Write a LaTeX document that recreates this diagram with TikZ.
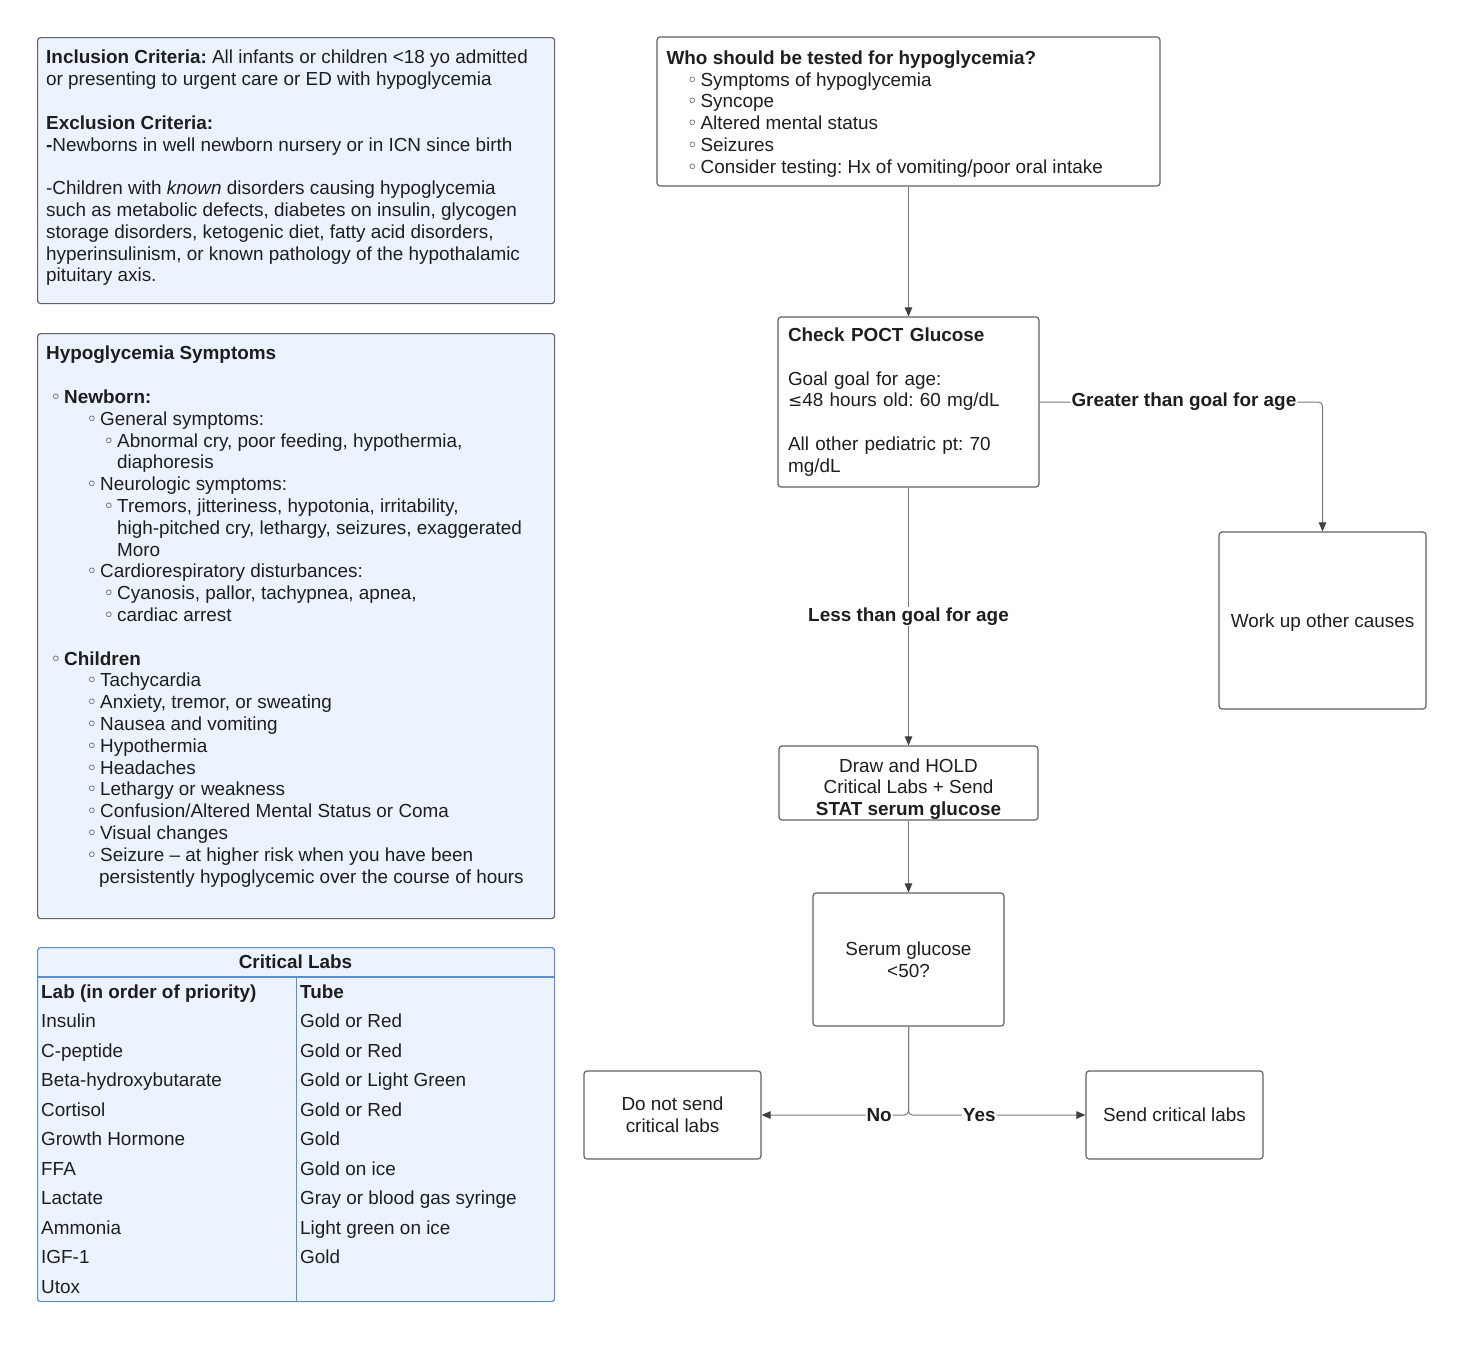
\documentclass[tikz,border=0pt]{standalone}
\usepackage{fontspec}
\setmainfont{Liberation Sans}
\newfontfamily\symfont{DejaVu Sans}
\usetikzlibrary{arrows.meta,positioning}
\frenchspacing

\definecolor{infofill}{HTML}{EBF4FE}
\definecolor{boxline}{HTML}{5F6368}
\definecolor{tabline}{HTML}{5A8FD1}
\definecolor{wireline}{HTML}{7A7A7A}
\definecolor{tipgray}{HTML}{3C4043}
\definecolor{inkgray}{HTML}{1E1E1E}

\newcommand\boxfont{\fontsize{18.9}{21.8}\selectfont}
\newcommand\bul{{\symfont\fontsize{18}{21.8}\selectfont ◦}}
\newcommand\itm[2]{\hspace*{#1}\makebox[11pt][l]{\hspace*{-2.5pt}\bul}#2}
\newcommand\gap{\\[21.8pt]}

\tikzset{
  every node/.style={font=\boxfont, text=inkgray},
  infobox/.style={draw=boxline, fill=infofill, line width=1.2pt, rounded corners=3pt,
    anchor=north west, inner sep=0pt},
  tabbox/.style={infobox, draw=tabline},
  tabrule/.style={draw=tabline, line width=1.2pt},
  textblock/.style={anchor=north west, align=left, inner sep=0pt},
  cell/.style={anchor=base west, inner sep=0pt},
  flowbox/.style={draw=boxline, fill=white, line width=1.2pt, rounded corners=3pt,
    align=center, inner sep=10pt},
  flowarrow/.style={draw=wireline, line width=1pt,
    -{Triangle[length=9pt, width=7.5pt, color=tipgray]}},
  flowlabel/.style={fill=white, inner sep=1pt, font=\boxfont\bfseries}
}

\begin{document}
\begin{tikzpicture}[x=1pt, y=-1pt]
\fill[white] (0,0) rectangle (1478,1358);
\useasboundingbox (0,0) rectangle (1478,1358);

% left column: criteria
\node[infobox, minimum width=517pt, minimum height=266pt] (incl) at (37,37) {};
\node[textblock] (incltext) at ([xshift=9pt, yshift=-13pt]incl.north west) {%
\textbf{Inclusion Criteria:} All infants or children <18 yo admitted\\
or presenting to urgent care or ED with hypoglycemia\gap
\textbf{Exclusion Criteria:}\\
\textbf{-}Newborns in well newborn nursery or in ICN since birth\gap
-Children with \textit{known} disorders causing hypoglycemia\\
such as metabolic defects, diabetes on insulin, glycogen\\
storage disorders, ketogenic diet, fatty acid disorders,\\
hyperinsulinism, or known pathology of the hypothalamic\\
pituitary axis.};

% left column: symptoms
\node[infobox, minimum width=517pt, minimum height=585pt] (symp) at (37,333) {};
\node[textblock] (symptext) at ([xshift=9pt, yshift=-13pt]symp.north west) {%
\textbf{Hypoglycemia Symptoms}\gap
\itm{7pt}{\textbf{Newborn:}}\\
\itm{43pt}{General symptoms:}\\
\itm{60pt}{Abnormal cry, poor feeding, hypothermia,}\\
\hspace*{71pt}diaphoresis\\
\itm{43pt}{Neurologic symptoms:}\\
\itm{60pt}{Tremors, jitteriness, hypotonia, irritability,}\\
\hspace*{71pt}high-pitched cry, lethargy, seizures, exaggerated\\
\hspace*{71pt}Moro\\
\itm{43pt}{Cardiorespiratory disturbances:}\\
\itm{60pt}{Cyanosis, pallor, tachypnea, apnea,}\\
\itm{60pt}{cardiac arrest}\gap
\itm{7pt}{\textbf{Children}}\\
\itm{43pt}{Tachycardia}\\
\itm{43pt}{Anxiety, tremor, or sweating}\\
\itm{43pt}{Nausea and vomiting}\\
\itm{43pt}{Hypothermia}\\
\itm{43pt}{Headaches}\\
\itm{43pt}{Lethargy or weakness}\\
\itm{43pt}{Confusion/Altered Mental Status or Coma}\\
\itm{43pt}{Visual changes}\\
\itm{43pt}{Seizure -- at higher risk when you have been}\\
\hspace*{53pt}persistently hypoglycemic over the course of hours};

% left column: critical labs table
\node[tabbox, minimum width=517pt, minimum height=354pt] (tab) at (37,947) {};
\draw[tabrule] ([yshift=-30pt]tab.north west) -- ([yshift=-30pt]tab.north east);
\draw[tabrule] ([yshift=-30pt]tab.north) -- (tab.south);
\node[cell, anchor=base, font=\boxfont\bfseries] (tabhead) at (295.5,968.5) {Critical Labs};
\node[cell, font=\boxfont\bfseries] (labhead) at (41,998.5) {Lab (in order of priority)};
\node[cell, font=\boxfont\bfseries] (tubehead) at (300,998.5) {Tube};
\foreach \lab/\tube [count=\i] in {Insulin/Gold or Red, C-peptide/Gold or Red,
    Beta-hydroxybutarate/Gold or Light Green, Cortisol/Gold or Red, Growth Hormone/Gold,
    FFA/Gold on ice, Lactate/Gray or blood gas syringe, Ammonia/Light green on ice,
    IGF-1/Gold, Utox/{}} {
  \node[cell] (lab\i) at (41,{998+29.55*\i}) {\lab};
  \node[cell] (tube\i) at (300,{998+29.55*\i}) {\tube};
}

% flowchart
\node[flowbox, minimum width=503pt, minimum height=149pt] (who) at (908.5,111.5) {};
\node[textblock] (whotext) at ([xshift=10pt, yshift=-14pt]who.north west) {%
\textbf{Who should be tested for hypoglycemia?}\\
\itm{23pt}{Symptoms of hypoglycemia}\\
\itm{23pt}{Syncope}\\
\itm{23pt}{Altered mental status}\\
\itm{23pt}{Seizures}\\
\itm{23pt}{Consider testing: Hx of vomiting/poor oral intake}};

\node[flowbox, minimum height=170pt, text width=241pt, align=left] (poct) at (908.5,402) {%
\textbf{Check POCT Glucose}\gap
Goal goal for age:\\
{\symfont\fontsize{17}{21.8}\selectfont ≤}48 hours old: 60 mg/dL\gap
All other pediatric pt: 70\\
mg/dL};

\node[flowbox, minimum width=207pt, minimum height=177pt] (work) at (1322.5,620.5) {};
\node (worktext) at ([yshift=-2pt]work.center) {Work up other causes};
\node[flowbox, minimum width=259pt, minimum height=74pt] (drawlab) at (908.5,783) {};
\node[align=center, inner sep=0pt] (drawtext) at ([yshift=-6pt]drawlab.center) {%
Draw and HOLD\\ Critical Labs + Send\\ \textbf{STAT serum glucose}};
\node[flowbox, minimum width=191pt, minimum height=133pt] (serum) at (908.5,959.5) {Serum glucose\\ <50?};
\node[flowbox, minimum width=177pt, minimum height=88pt] (nosend) at (672.5,1115) {Do not send\\ critical labs};
\node[flowbox, minimum width=177pt, minimum height=88pt] (send) at (1174.5,1115) {Send critical labs};

\draw[flowarrow] (who) -- (poct);
\draw[flowarrow, rounded corners=4pt] (poct.east) -| node[flowlabel, pos=0.255] {Greater than goal for age} (work.north);
\draw[flowarrow] (poct) -- node[flowlabel] {Less than goal for age} (drawlab);
\draw[flowarrow] (drawlab) -- (serum);
\draw[flowarrow, rounded corners=4pt] (serum.south) |- node[flowlabel, pos=0.6] {No} (nosend.east);
\draw[flowarrow, rounded corners=4pt] (serum.south) |- node[flowlabel, pos=0.7] {Yes} (send.west);
\end{tikzpicture}
\end{document}
